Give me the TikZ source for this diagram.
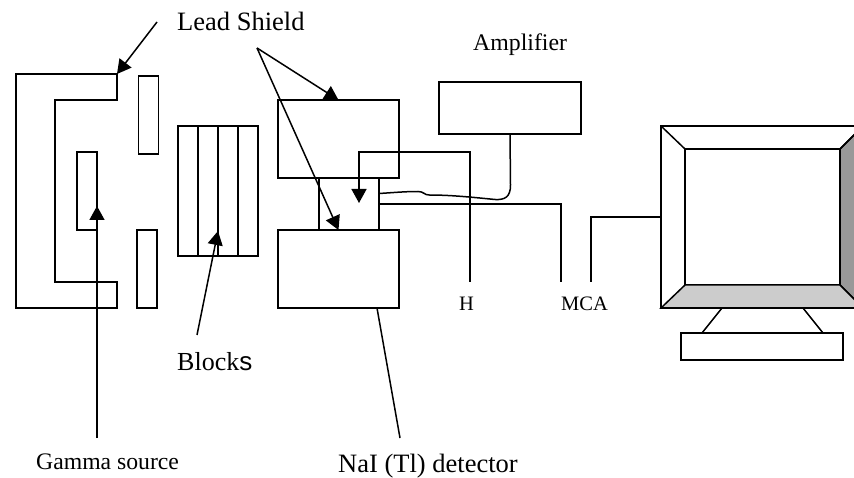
\documentclass[tikz,border=0pt]{standalone}
\usepackage{fontspec}
\setmainfont{Liberation Serif}
\setsansfont{Liberation Sans}
\usetikzlibrary{arrows.meta}
\tikzset{
  boxnode/.style={draw, line width=1.5pt, inner sep=0pt, outer sep=0pt},
  wire/.style={line width=1.5pt},
  pointer/.style={line width=1.5pt, -{Triangle[length=14pt,width=15pt]}},
  labelnode/.style={anchor=base west, inner sep=0pt},
}
\begin{document}
\begin{tikzpicture}[x=1pt,y=-1pt]
        \useasboundingbox (0,0) rectangle (854,478);
        % source side
        \draw[wire] (16,74) -- (117,74) -- (117,100) -- (55,100) -- (55,282) -- (117,282) -- (117,308) -- (16,308) -- cycle;
        \node[boxnode, minimum width=20pt, minimum height=78pt] (source) at (87,191) {};
        \node[boxnode, minimum width=20pt, minimum height=78pt] (slitup) at (148.5,115) {};
        \node[boxnode, minimum width=20pt, minimum height=78pt] (slitdown) at (147,269) {};
        % blocks
        \node[boxnode, minimum width=20pt, minimum height=130pt] (blockA) at (188,191) {};
        \node[boxnode, minimum width=20pt, minimum height=130pt] (blockB) at (208,191) {};
        \node[boxnode, minimum width=20pt, minimum height=130pt] (blockC) at (228,191) {};
        \node[boxnode, minimum width=20pt, minimum height=130pt] (blockD) at (248,191) {};
        % detector
        \node[boxnode, minimum width=121pt, minimum height=78pt] (shieldtop) at (338.5,139) {};
        \node[boxnode, minimum width=121pt, minimum height=78pt] (shieldbottom) at (338.5,269) {};
        \node[boxnode, minimum width=60pt, minimum height=52pt] (detector) at (349,204) {};
        \node[boxnode, minimum width=142pt, minimum height=52pt] (amplifier) at (510,108) {};
        % monitor
        \node[boxnode, minimum width=202pt, minimum height=182pt] (monitor) at (762,217) {};
        \node[boxnode, minimum width=155pt, minimum height=136pt] (screen) at (762.5,217) {};
        \node[boxnode, minimum width=162pt, minimum height=27pt] (base) at (762,346.5) {};
        \draw[wire, fill=black!40] (screen.north east) -- (monitor.north east) -- (monitor.south east) -- (screen.south east) -- cycle;
        \draw[wire, fill=black!20] (screen.south west) -- (monitor.south west) -- (monitor.south east) -- (screen.south east) -- cycle;
        \draw[wire] (monitor.north west) -- (screen.north west);
        \draw[wire] (monitor.north east) -- (screen.north east);
        \draw[wire] (722,308) -- (702,333);
        \draw[wire] (803,308) -- (823,333);
        % labels
        \node[labelnode, font=\fontsize{26.5}{30}\selectfont] (leadlabel) at (177,31) {Lead Shield};
        \node[labelnode, font=\fontsize{23.8}{27}\selectfont] (amplabel) at (473,51) {Amplifier};
        \node[labelnode, font=\fontsize{20.5}{24}\selectfont] (hlabel) at (459,311) {H};
        \node[labelnode, font=\fontsize{20.5}{24}\selectfont] (mcalabel) at (561,311) {MCA};
        \node[labelnode, font=\fontsize{26}{30}\selectfont] (blockslabel) at (177,370) {Block{\sffamily s}};
        \node[labelnode, font=\fontsize{23.7}{27}\selectfont] (gammalabel) at (36,469) {Gamma source};
        \node[labelnode, font=\fontsize{26.5}{30}\selectfont] (nailabel) at (338,472) {NaI (Tl) detector};
        % arrows
        \coordinate (leadfoot) at (157,22);
        \coordinate (leadcorner) at (117,74);
        \coordinate (leadapex) at (257,48);
        \coordinate (gammafoot) at (97,438);
        \coordinate (gammatip) at (97,206);
        \coordinate (blocksfoot) at (197,335);
        \coordinate (blockstip) at (218,231);
        \draw[pointer] (leadfoot) -- (leadcorner);
        \draw[pointer] (leadapex) -- (shieldtop.north);
        \draw[pointer] (leadapex) -- (shieldbottom.north);
        \draw[pointer] (gammafoot) -- (gammatip);
        \draw[pointer] (blocksfoot) -- (blockstip);
        \coordinate (naifoot) at (400,438);
        \coordinate (naitop) at (377,308);
        \draw[wire] (naifoot) -- (naitop);
        % cables
        \coordinate (hfoot) at (470,282);
        \coordinate (hcorner) at (470,152);
        \coordinate (hturn) at (359,152);
        \coordinate (htip) at (359,203);
        \draw[pointer] (hfoot) -- (hcorner) -- (hturn) -- (htip);
        \coordinate (mcafoot) at (561,282);
        \draw[wire] (detector.east) -| (mcafoot);
        \coordinate (monfoot) at (591,282);
        \draw[wire] (monfoot) |- (monitor.west);
        \draw[wire] (amplifier.south) -- (510.5,185) .. controls (510.5,197) and (505,200) .. (495,199.5)
            .. controls (470,197) and (450,195) .. (429,195) .. controls (424,195) and (424,191.5) .. (418,191.5)
            .. controls (405,191.5) and (395,192.5) .. (379,193.5);
\end{tikzpicture}
\end{document}
